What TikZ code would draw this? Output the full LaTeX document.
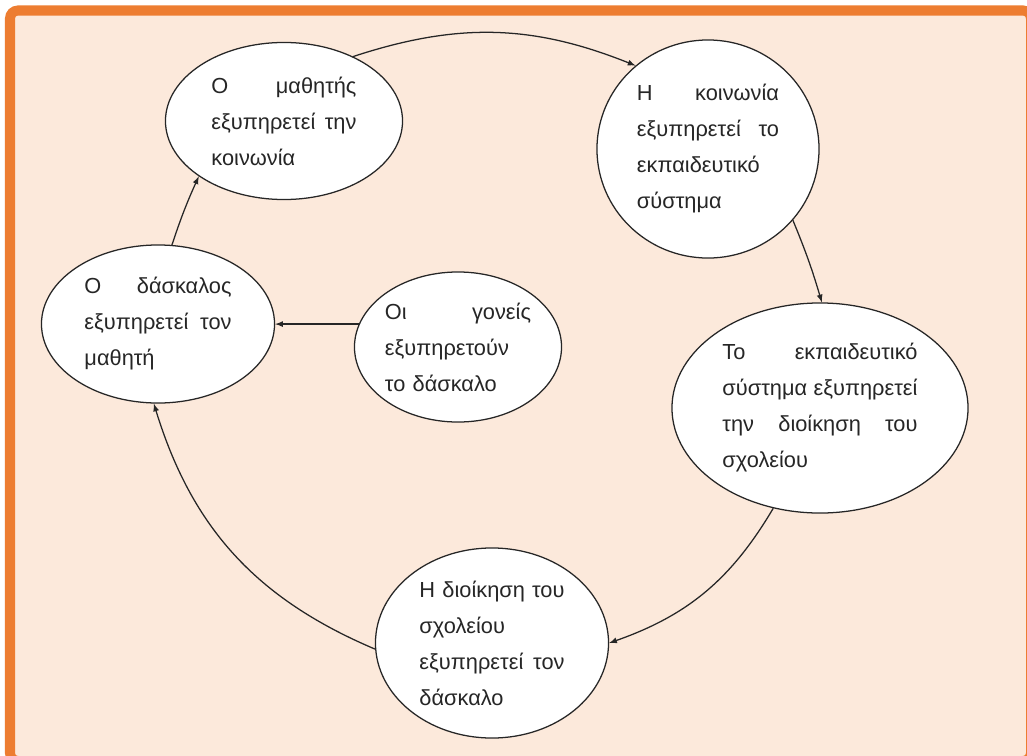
\documentclass[tikz,border=0pt]{standalone}
\usepackage{fontspec}
\setmainfont{Liberation Sans}
\usetikzlibrary{shapes.geometric}
\usetikzlibrary{arrows}
\definecolor{naranja}{RGB}{237,125,49}
\definecolor{durazno}{RGB}{252,233,219}

\begin{document}
\begin{tikzpicture}[x=0.025cm,y=-0.025cm]
\tikzstyle{globo texto}=[ellipse,draw=black!85,fill=white,line width=0.9pt,inner sep=0pt,align=left,text=black!85,font=\fontsize{15.5}{25.6}\selectfont]
\tikzstyle{flecha}=[-latex,draw=black!85,line width=0.9pt]

\useasboundingbox (0,0) rectangle (1027,756);
\draw[draw=none,fill=white] (0,0) rectangle (1027,756);
\draw[naranja,line width=0.25cm,fill=durazno,rounded corners=0.2cm] (10,10.5) rectangle (1031,761);

\node[globo texto,text width=3.625cm,minimum width=5.925cm,minimum height=3.925cm] (mathitis) at (284,121) {Ο\hfill μαθητής\\ εξυπηρετεί\hfill την\\ κοινωνία};
\node[globo texto,text width=3.55cm,minimum width=5.55cm,minimum height=5.45cm] (koinonia) at (708,149) {Η\hfill κοινωνία\\ εξυπηρετεί\hfill το\\ εκπαιδευτικό\\ σύστημα};
\node[globo texto,text width=4.875cm,minimum width=7.4cm,minimum height=5.25cm] (systima) at (820,408) {Το\hfill εκπαιδευτικό\\ σύστημα\hfill εξυπηρετεί\\ την\hfill διοίκηση\hfill του\\ σχολείου};
\node[globo texto,text width=3.625cm,minimum width=5.825cm,minimum height=4.75cm] (dioikisi) at (492,643) {Η\hfill διοίκηση\hfill του\\ σχολείου\\ εξυπηρετεί\hfill τον\\ δάσκαλο};
\node[globo texto,text width=3.675cm,minimum width=5.825cm,minimum height=3.95cm] (daskalos) at (158,324) {Ο\hfill δάσκαλος\\ εξυπηρετεί\hfill τον\\ μαθητή};
\node[globo texto,text width=3.65cm,minimum width=5.175cm,minimum height=3.75cm] (goneis) at (458,347) {Οι\hfill γονείς\\ εξυπηρετούν\\ το δάσκαλο};

\draw[flecha] (mathitis.43) to[bend left=20] (koinonia.131);
\draw[flecha] (koinonia.-40) to[bend left=3] (systima.89);
\draw[flecha] (systima.245) to[bend left=20] (dioikisi.east);
\draw[flecha] (dioikisi.183) to[bend left=25] (daskalos.267);
\draw[flecha] (daskalos.80) to[bend left=3] (mathitis.213);
\draw[flecha] (goneis.167) -- (daskalos.east |- goneis.167);
\end{tikzpicture}
\end{document}
